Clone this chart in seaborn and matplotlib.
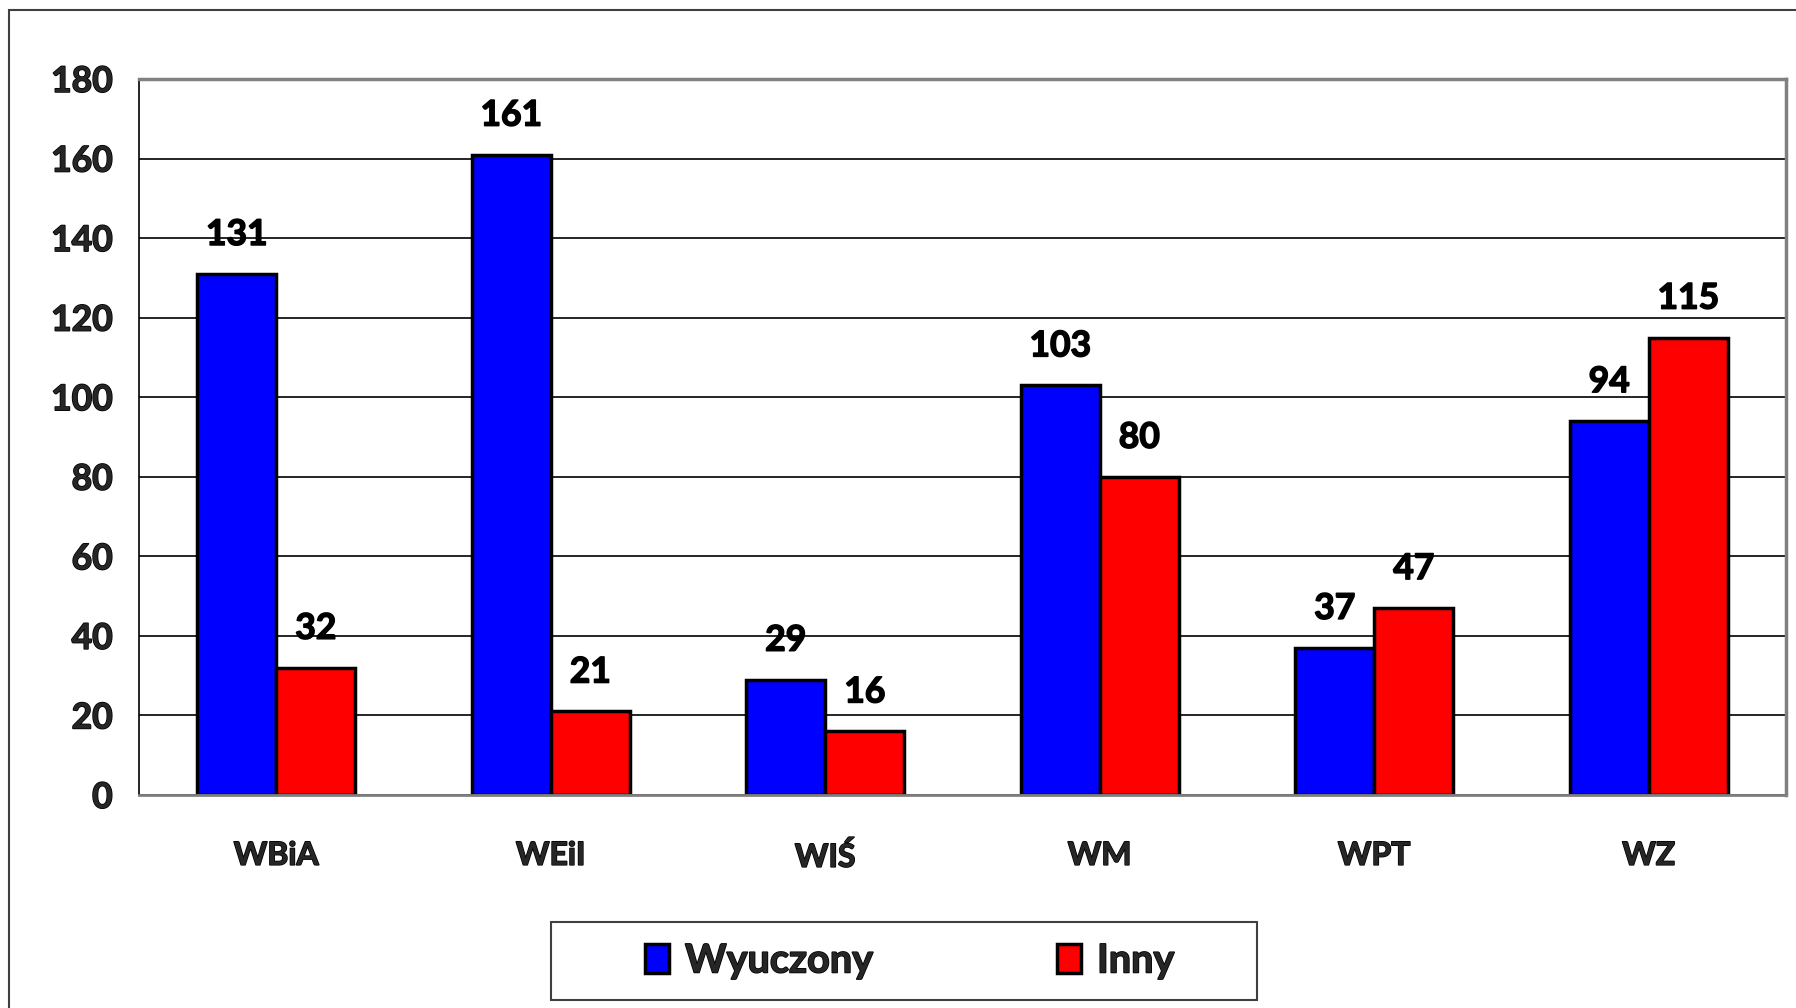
import matplotlib
matplotlib.use("Agg")
import matplotlib.pyplot as plt
import matplotlib.patheffects as pe
from matplotlib.patches import Rectangle
import seaborn as sns
import pandas as pd

# dane
wydzialy = ["WBiA", "WEiI", "WIŚ", "WM", "WPT", "WZ"]
wyuczony = [131, 161, 29, 103, 37, 94]
inny = [32, 21, 16, 80, 47, 115]
serie = ["Wyuczony", "Inny"]
kolory = ["#0000ff", "#ff0000"]
y_ticks = [0, 20, 40, 60, 80, 100, 120, 140, 160, 180]

df = pd.DataFrame({
    "Wydzial": wydzialy * 2,
    "Liczba": wyuczony + inny,
    "Typ": [serie[0]] * len(wydzialy) + [serie[1]] * len(wydzialy),
})

sns.set_style("white")
plt.rcParams["font.family"] = ["Lato", "DejaVu Sans"]
WAGA = "bold"
# pogrubienie tekstu, zeby przypominal Calibri Bold
gruby = [pe.withStroke(linewidth=1.1, foreground="black")]

W, H = 1796, 1008
fig = plt.figure(figsize=(W / 100, H / 100), dpi=100)
ax = fig.add_axes([139 / W, 1 - 795 / H, (1786 - 139) / W, (795 - 79) / H])

sns.barplot(data=df, x="Wydzial", y="Liczba", hue="Typ", order=wydzialy,
            hue_order=serie, palette=kolory, width=0.576, gap=0,
            edgecolor="black", linewidth=2.5, saturation=1, ax=ax, legend=False)

for cont in ax.containers:
    for t in ax.bar_label(cont, padding=16.5, fontsize=25.5, fontweight=WAGA, color="black"):
        t.set_path_effects(gruby)

ax.set_xlim(-0.5, len(wydzialy) - 0.5)
ax.set_ylim(0, 180)
ax.set_yticks(y_ticks)
ax.set_xlabel("")
ax.set_ylabel("")
ax.yaxis.grid(True, color="black", linewidth=1.2)
ax.set_axisbelow(True)

ax.set_xticks([i - 0.5 for i in range(len(wydzialy) + 1)], minor=True)
ax.tick_params(axis="x", which="major", length=0, pad=33, labelsize=23)
ax.tick_params(axis="x", which="minor", length=8, width=1.5, color="#808080", direction="out")
ax.tick_params(axis="y", length=6, width=1.2, color="black", direction="out", pad=13, labelsize=25.5)
for lab in ax.get_xticklabels() + ax.get_yticklabels():
    lab.set_fontweight(WAGA)
    lab.set_path_effects(gruby)

ax.spines["top"].set_color("#808080")
ax.spines["top"].set_linewidth(2.5)
ax.spines["right"].set_color("#808080")
ax.spines["right"].set_linewidth(2.5)
ax.spines["bottom"].set_color("#808080")
ax.spines["bottom"].set_linewidth(2)
ax.spines["left"].set_color("black")
ax.spines["left"].set_linewidth(1.2)

# ramka calego wykresu
fig.patches.append(Rectangle((9 / W, -0.1), 1.2, 1.1 - 10 / H, transform=fig.transFigure,
                             fill=False, edgecolor="#404040", linewidth=1.5))

# legenda
fig.patches.append(Rectangle((551 / W, 1 - 1000 / H), (1257 - 551) / W, 78 / H,
                             transform=fig.transFigure, fill=False,
                             edgecolor="#404040", linewidth=1.5))
uchwyty = [Rectangle((0, 0), 1, 1, facecolor=c, edgecolor="black", linewidth=2.5) for c in kolory]
leg = fig.legend(uchwyty, serie, loc="center", bbox_to_anchor=(910 / W, 1 - 961 / H),
                 ncol=2, frameon=False, handlelength=0.6, handleheight=0.75,
                 handletextpad=0.4, columnspacing=4.65, prop={"weight": WAGA, "size": 28.5})
for t in leg.get_texts():
    t.set_path_effects(gruby)

fig.savefig("out.png", dpi=100)
